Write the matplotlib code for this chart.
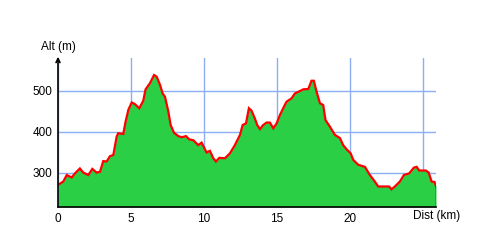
import matplotlib
matplotlib.use("Agg")
import matplotlib.pyplot as plt

dist_km = [0.0, 0.36, 0.6, 0.94, 1.16, 1.5, 1.73, 2.08, 2.35, 2.65, 2.88, 3.1, 3.33, 3.56, 3.79,
           4.02, 4.13, 4.47, 4.63, 4.82, 5.05, 5.27, 5.57, 5.84, 6.0, 6.3, 6.58, 6.76, 6.99,
           7.17, 7.33, 7.56, 7.72, 7.95, 8.24, 8.47, 8.77, 8.99, 9.27, 9.61, 9.84, 10.18, 10.41,
           10.64, 10.82, 11.05, 11.44, 11.78, 12.12, 12.47, 12.65, 12.88, 13.08, 13.26, 13.49,
           13.65, 13.84, 14.06, 14.29, 14.52, 14.75, 14.98, 15.2, 15.43, 15.66, 16.0, 16.23,
           16.58, 16.8, 17.15, 17.37, 17.53, 17.72, 17.95, 18.17, 18.33, 18.63, 18.97, 19.32,
           19.54, 19.77, 20.05, 20.23, 20.57, 21.03, 21.37, 21.71, 21.94, 22.69, 22.85, 23.08,
           23.42, 23.7, 24.06, 24.38, 24.57, 24.75, 25.2, 25.4, 25.6, 25.8, 25.9]
alt_m = [271, 279, 295, 289, 299, 311, 301, 295, 310, 301, 303, 329, 328, 341, 344,
         389, 397, 395, 425, 454, 472, 468, 458, 476, 504, 519, 539, 535, 515,
         494, 486, 450, 417, 398, 390, 387, 390, 382, 380, 368, 374, 350, 354,
         336, 328, 337, 336, 348, 368, 393, 417, 421, 458, 452, 433,
         417, 407, 417, 423, 423, 409, 421, 441, 458, 474, 482, 494,
         500, 504, 505, 525, 525, 498, 470, 466, 429, 413, 393, 385,
         368, 358, 348, 332, 320, 315, 295, 279, 267, 267, 260, 267,
         279, 295, 299, 313, 315, 306, 306, 301, 279, 278, 268]

x_ticks = [0, 5, 10, 15, 20, 25]
x_tick_labels = ["0", "5", "10", "15", "20", ""]
y_ticks = [300, 400, 500]
y_tick_labels = ["300", "400", "500"]

FONT = "Liberation Sans"
plt.rcParams["font.family"] = [FONT, "DejaVu Sans"]

fig = plt.figure(figsize=(5, 2.5), dpi=100)
ax = fig.add_axes([58 / 500, 43 / 250, 378 / 500, 149 / 250])
ymin, ymax = 217, 580.5
xmax = 25.9

ax.fill_between(dist_km, alt_m, ymin, color="#2ACF46", linewidth=0, zorder=2)
ax.plot(dist_km, alt_m, color="#FF0000", linewidth=1.6, zorder=3, solid_joinstyle="miter")
ax.plot([dist_km[-1], dist_km[-1]], [ymin, alt_m[-1]], color="black", linewidth=1.0, zorder=3)

ax.set_xlim(0, xmax)
ax.set_ylim(ymin, ymax)
ax.set_xticks(x_ticks)
ax.set_xticklabels(x_tick_labels)
ax.set_yticks(y_ticks)
ax.set_yticklabels(y_tick_labels)
ax.tick_params(length=0, labelsize=8.5, pad=4, colors="black")
ax.grid(True, color="#8EAEF2", linewidth=1.0, zorder=1)
ax.set_axisbelow(True)

for s in ["top", "right", "left"]:
    ax.spines[s].set_visible(False)
ax.spines["bottom"].set_color("black")
ax.spines["bottom"].set_linewidth(1.2)
ax.spines["bottom"].set_zorder(4)

# y axis with arrow
ax.annotate("", xy=(0, ymax + 3), xytext=(0, ymin), xycoords="data",
            arrowprops=dict(arrowstyle="->", color="black", lw=1.2,
                            shrinkA=0, shrinkB=0, mutation_scale=7),
            annotation_clip=False, zorder=5)

ax.text(0, ymax + 27, "Alt (m)", ha="center", va="center", fontsize=8.5)
ax.text(xmax + 0.05, ymin - 21, "Dist (km)", ha="center", va="center", fontsize=8.5)

fig.savefig("out.png", dpi=100)
